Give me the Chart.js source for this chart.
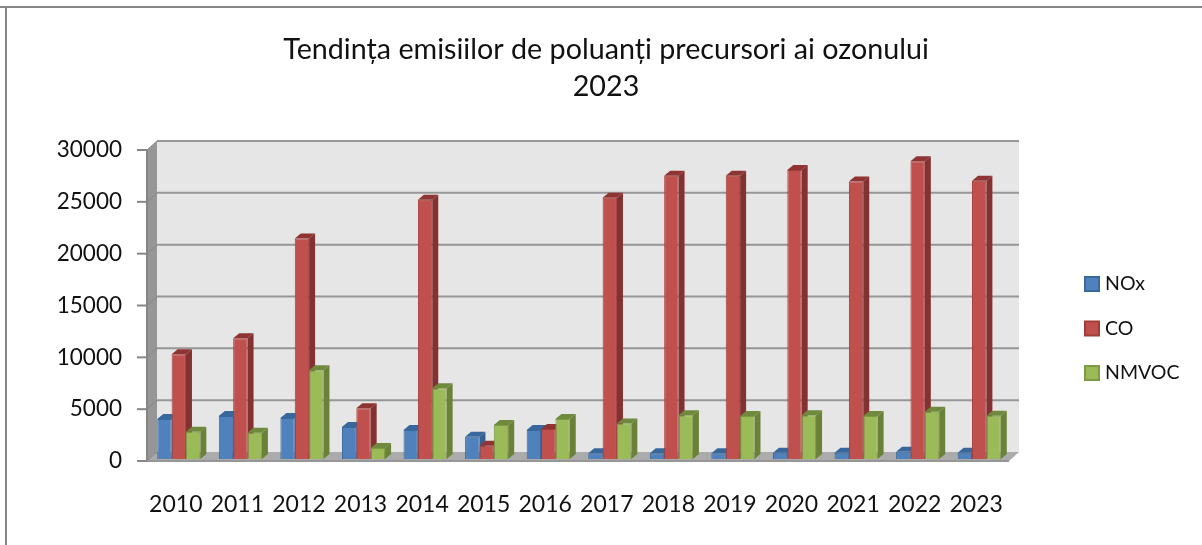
<!DOCTYPE html>
<html lang="ro">
<head>
<meta charset="UTF-8">
<title>Tendința emisiilor de poluanți precursori ai ozonului</title>
<script src="https://cdn.jsdelivr.net/npm/chart.js@4"></script>
<style>
  html, body { margin: 0; padding: 0; background: #fff; overflow: hidden; }
  canvas { display: block; }
</style>
</head>
<body>
<canvas id="chart" width="1202" height="545"></canvas>
<script>
const years = ['2010','2011','2012','2013','2014','2015','2016','2017','2018','2019','2020','2021','2022','2023'];
const nox   = [3850, 4140, 3950, 3080, 2790, 2150, 2790, 550, 550, 550, 610, 610, 700, 610];
const co    = [10100, 11650, 21270, 4900, 25020, 1280, 2890, 25190, 27330, 27330, 27880, 26760, 28710, 26850];
const nmvoc = [2630, 2530, 8570, 1060, 6830, 3270, 3850, 3430, 4230, 4140, 4230, 4140, 4550, 4170];
const yTicks = [0, 5000, 10000, 15000, 20000, 25000, 30000];

const FONT = 'Lato, Carlito, Calibri, sans-serif';
const TEXT = '#111111';
const DEPTH_X = 6, DEPTH_Y = 5;     // adancime bare
const WALL_X = 10, WALL_Y = 9;      // adancime perete
const TICK_SHIFT = 2;               // liniile axei stau putin sub baza barelor

const series = [
  { label: 'NOx',   data: nox,   front: '#4F81BD', edge: '#3A679C', side: '#38608F', top: '#38679B' },
  { label: 'CO',    data: co,    front: '#C0504D', edge: '#A03E3B', side: '#843231', top: '#8E3533' },
  { label: 'NMVOC', data: nmvoc, front: '#9BBB59', edge: '#7F9A45', side: '#6A8238', top: '#6F8A3C' }
];

function poly(ctx, pts, fill) {
  ctx.beginPath();
  pts.forEach((p, i) => i ? ctx.lineTo(p[0], p[1]) : ctx.moveTo(p[0], p[1]));
  ctx.closePath();
  ctx.fillStyle = fill;
  ctx.fill();
}

function line(ctx, x1, y1, x2, y2, color, width) {
  ctx.beginPath();
  ctx.moveTo(x1, y1);
  ctx.lineTo(x2, y2);
  ctx.strokeStyle = color;
  ctx.lineWidth = width;
  ctx.stroke();
}

// cadrul graficului, pereti, podea, linii de grila si fetele 3D ale barelor
const wallsPlugin = {
  id: 'walls',
  beforeDatasetsDraw(chart) {
    const { ctx, chartArea: a, scales: { y } } = chart;
    const left = a.left - 1, right = a.right - 1;
    const top = y.getPixelForValue(30000) + TICK_SHIFT;
    const bottom = y.getPixelForValue(0) + TICK_SHIFT;
    ctx.save();
    line(ctx, 0, 7, chart.width, 7, '#868686', 2);
    line(ctx, 6, 7, 6, chart.height, '#868686', 2);

    poly(ctx, [[left + WALL_X, top - WALL_Y], [right + WALL_X, top - WALL_Y], [right + WALL_X, bottom - WALL_Y], [left + WALL_X, bottom - WALL_Y]], '#E6E6E6');
    poly(ctx, [[left, top], [left + WALL_X, top - WALL_Y], [left + WALL_X, bottom - WALL_Y], [left, bottom]], '#969696');
    poly(ctx, [[left, bottom], [left + WALL_X, bottom - WALL_Y], [right + WALL_X, bottom - WALL_Y], [right, bottom]], '#ABABAB');

    yTicks.forEach(v => {
      const py = y.getPixelForValue(v) + TICK_SHIFT;
      if (v > 0) {
        line(ctx, left + WALL_X, py - WALL_Y, right + WALL_X, py - WALL_Y, '#969696', 2);
      }
      line(ctx, left, py, left + WALL_X, py - WALL_Y, '#868686', 1);
      line(ctx, left - 10, py, left, py, '#868686', 2);
    });
    line(ctx, left, top, left, bottom, '#868686', 2);
    line(ctx, left, bottom, right, bottom, '#969696', 2);

    // laterala si capacul se deseneaza inainte de fetele barelor, ca sa ramana in spate
    series.forEach((s, i) => {
      chart.getDatasetMeta(i).data.forEach(bar => {
        const p = bar.getProps(['x', 'y', 'base', 'width'], true);
        const l = p.x - p.width / 2, r = p.x + p.width / 2;
        poly(ctx, [[r, p.y], [r + DEPTH_X, p.y - DEPTH_Y], [r + DEPTH_X, p.base - DEPTH_Y], [r, p.base]], s.side);
        poly(ctx, [[l, p.y], [l + DEPTH_X, p.y - DEPTH_Y], [r + DEPTH_X, p.y - DEPTH_Y], [r, p.y]], s.top);
      });
    });
    ctx.restore();
  }
};

// legenda desenata din seturile de date, cu pozitia din original
const legendPlugin = {
  id: 'sideLegend',
  afterDraw(chart) {
    const { ctx } = chart;
    ctx.save();
    ctx.font = '19.5px ' + FONT;
    ctx.textBaseline = 'middle';
    series.forEach((s, i) => {
      const cy = 284 + i * 44.5;
      ctx.fillStyle = s.front;
      ctx.strokeStyle = s.edge;
      ctx.lineWidth = 2;
      ctx.fillRect(1085, cy - 7, 14, 14);
      ctx.strokeRect(1085, cy - 7, 14, 14);
      ctx.fillStyle = TEXT;
      ctx.fillText(chart.data.datasets[i].label, 1105, cy);
    });
    ctx.restore();
  }
};

new Chart(document.getElementById('chart'), {
  type: 'bar',
  data: {
    labels: years,
    datasets: series.map(s => ({
      label: s.label,
      data: s.data,
      backgroundColor: s.front,
      borderColor: s.edge,
      borderWidth: 1,
      barPercentage: 1,
      categoryPercentage: 0.7
    }))
  },
  options: {
    responsive: false,
    animation: false,
    layout: { padding: { left: 10, right: 0, top: 0, bottom: 0 } },
    plugins: {
      legend: { display: false },
      tooltip: { enabled: false },
      title: {
        display: true,
        text: ['Tendința emisiilor de poluanți precursori ai ozonului', '2023'],
        color: TEXT,
        font: { family: FONT, size: 28.7, weight: 'normal', lineHeight: '37px' },
        padding: { top: 31, bottom: 43 }
      }
    },
    scales: {
      x: {
        grid: { display: false },
        border: { display: false },
        afterFit(scale) { scale.height = 86; },
        ticks: {
          color: TEXT,
          padding: 24,
          labelOffset: -3,
          autoSkip: false,
          maxRotation: 0,
          font: { family: FONT, size: 23 }
        }
      },
      y: {
        min: 0,
        max: 30000,
        grid: { display: false },
        border: { display: false },
        afterFit(scale) { scale.width = 138; },
        afterBuildTicks(scale) { scale.ticks = yTicks.map(v => ({ value: v })); },
        ticks: {
          color: TEXT,
          padding: 18,
          labelOffset: 2,
          callback: v => String(v),
          font: { family: FONT, size: 22.5 }
        }
      },
      // spatiu rezervat pentru legenda
      legendSpace: {
        axis: 'y',
        position: 'right',
        grid: { display: false },
        border: { display: false },
        ticks: { display: false },
        afterFit(scale) { scale.width = 192; }
      }
    }
  },
  plugins: [wallsPlugin, legendPlugin]
});
</script>
</body>
</html>
